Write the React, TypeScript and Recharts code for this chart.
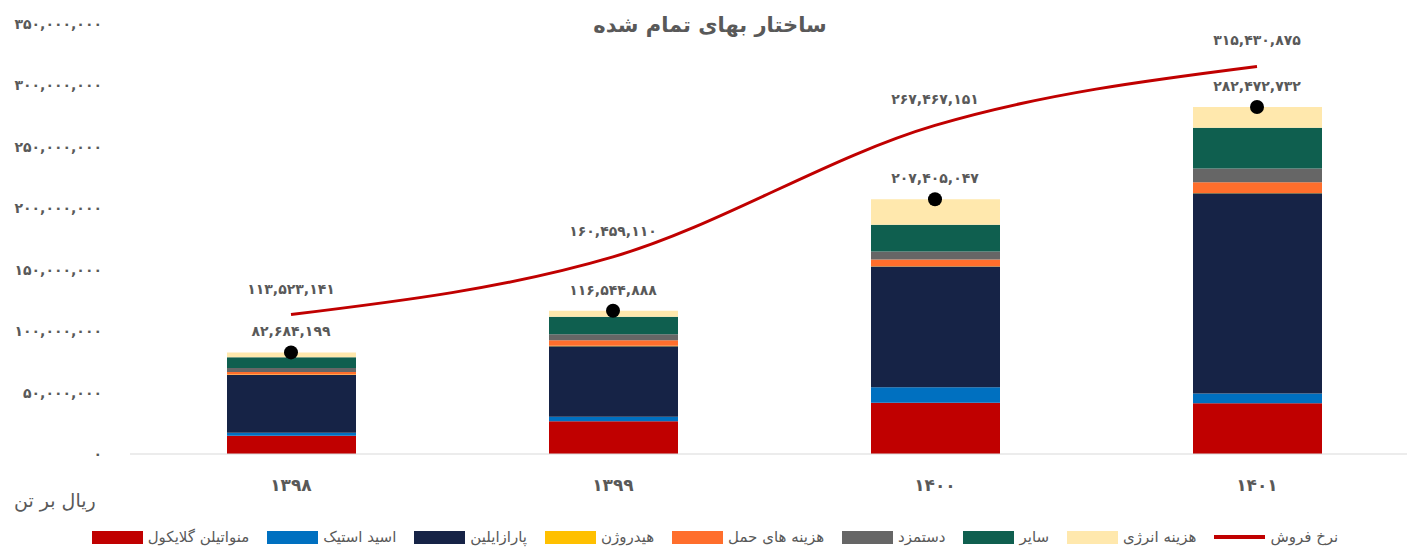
// Cost structure (ساختار بهای تمام شده): stacked cost bars + sale price line.
import { Bar, ComposedChart, LabelList, Line, XAxis, YAxis } from "recharts";

const years = ["1398", "1399", "1400", "1401"];

// cost components, rial per ton
const meg = [14800000, 26600000, 41800000, 41400000];
const aceticAcid = [2500000, 3800000, 12500000, 7900000];
const paraxylene = [47100000, 57400000, 98300000, 162900000];
const hydrogen = [400000, 300000, 300000, 300000];
const transport = [1900000, 4400000, 5400000, 8700000];
const wages = [3400000, 4900000, 6500000, 11200000];
const other = [8600000, 14400000, 21800000, 33200000];
const energy = [3980000, 4740000, 20800000, 16870000];

const totalCost = [82684199, 116544888, 207405047, 282472732];
const salePrice = [113523141, 160459110, 267467151, 315430875];

const yTicks = [0, 50000000, 100000000, 150000000, 200000000, 250000000, 300000000, 350000000];

const FA_DIGITS = "۰۱۲۳۴۵۶۷۸۹";
const toFa = (v: number | string) =>
  (typeof v === "number" ? v.toLocaleString("en-US") : v).replace(/\d/g, (d) => FA_DIGITS[+d]);

const series = [
  { key: "meg", name: "منواتیلن گلایکول", color: "#C00000", values: meg },
  { key: "acetic", name: "اسید استیک", color: "#0070C0", values: aceticAcid },
  { key: "px", name: "پارازایلین", color: "#162346", values: paraxylene },
  { key: "h2", name: "هیدروژن", color: "#FFC000", values: hydrogen },
  { key: "transport", name: "هزینه های حمل", color: "#FF6E2C", values: transport },
  { key: "wages", name: "دستمزد", color: "#666666", values: wages },
  { key: "other", name: "سایر", color: "#0F5F4F", values: other },
  { key: "energy", name: "هزینه انرژی", color: "#FFE8AD", values: energy },
];

const data = years.map((year, i) => {
  const row: Record<string, number | string> = { year, total: totalCost[i], price: salePrice[i] };
  series.forEach((s) => (row[s.key] = s.values[i]));
  return row;
});

const FONT = "'DejaVu Sans', sans-serif";
const GRAY = "#595959";
const labelStyle = { fill: GRAY, fontSize: 14, fontWeight: "bold", fontFamily: FONT };

export default function App() {
  const legendItems = [
    ...series.map((s) => ({ name: s.name, color: s.color, line: false })),
    { name: "نرخ فروش", color: "#C00000", line: true },
  ];

  return (
    <div
      style={{
        position: "absolute",
        left: 0,
        top: 0,
        width: 1407,
        height: 547,
        overflow: "hidden",
        background: "#fff",
        fontFamily: FONT,
      }}
    >
      <div
        style={{
          position: "absolute",
          top: 13,
          left: 0,
          width: 1420,
          textAlign: "center",
          fontSize: 21,
          fontWeight: "bold",
          color: GRAY,
          direction: "rtl",
        }}
      >
        ساختار بهای تمام شده
      </div>

      <ComposedChart
        width={1420}
        height={547}
        data={data}
        margin={{ top: 24, right: 2, left: 0, bottom: 53 }}
        barSize={129}
      >
        <XAxis
          dataKey="year"
          height={40}
          axisLine={{ stroke: "#D9D9D9" }}
          tickLine={false}
          tickSize={0}
          tickMargin={25}
          tickFormatter={(v) => toFa(v)}
          tick={{ fill: GRAY, fontSize: 17, fontWeight: "bold", fontFamily: FONT }}
        />
        <YAxis
          width={130}
          domain={[0, 350000000]}
          ticks={yTicks}
          interval={0}
          axisLine={false}
          tickLine={false}
          tickSize={0}
          tickMargin={28}
          tickFormatter={(v) => toFa(v)}
          tick={labelStyle}
        />
        {series.map((s) => (
          <Bar key={s.key} dataKey={s.key} name={s.name} stackId="cost" fill={s.color} isAnimationActive={false} />
        ))}
        <Line
          dataKey="price"
          name="نرخ فروش"
          type="monotone"
          stroke="#C00000"
          strokeWidth={3}
          dot={false}
          isAnimationActive={false}
        >
          <LabelList dataKey="price" position="top" offset={21} formatter={(v: number) => toFa(v)} style={labelStyle} />
        </Line>
        <Line
          dataKey="total"
          stroke="none"
          dot={{ r: 7, fill: "#000", stroke: "none" }}
          isAnimationActive={false}
        >
          <LabelList dataKey="total" position="top" offset={16} formatter={(v: number) => toFa(v)} style={labelStyle} />
        </Line>
      </ComposedChart>

      <div style={{ position: "absolute", left: 14, top: 489, fontSize: 19, color: GRAY, direction: "rtl" }}>
        ریال بر تن
      </div>

      <div
        style={{
          position: "absolute",
          left: 0,
          width: 1430,
          top: 528,
          display: "flex",
          justifyContent: "center",
          alignItems: "center",
          fontSize: 15,
          color: GRAY,
        }}
      >
        {legendItems.map((item, i) => (
          <div
            key={item.name}
            style={{ display: "flex", alignItems: "center", marginRight: i === legendItems.length - 1 ? 0 : 18 }}
          >
            <span
              style={{
                display: "inline-block",
                width: 51,
                height: item.line ? 4 : 13,
                background: item.color,
                marginRight: 5,
              }}
            />
            <span style={{ direction: "rtl" }}>{item.name}</span>
          </div>
        ))}
      </div>
    </div>
  );
}
